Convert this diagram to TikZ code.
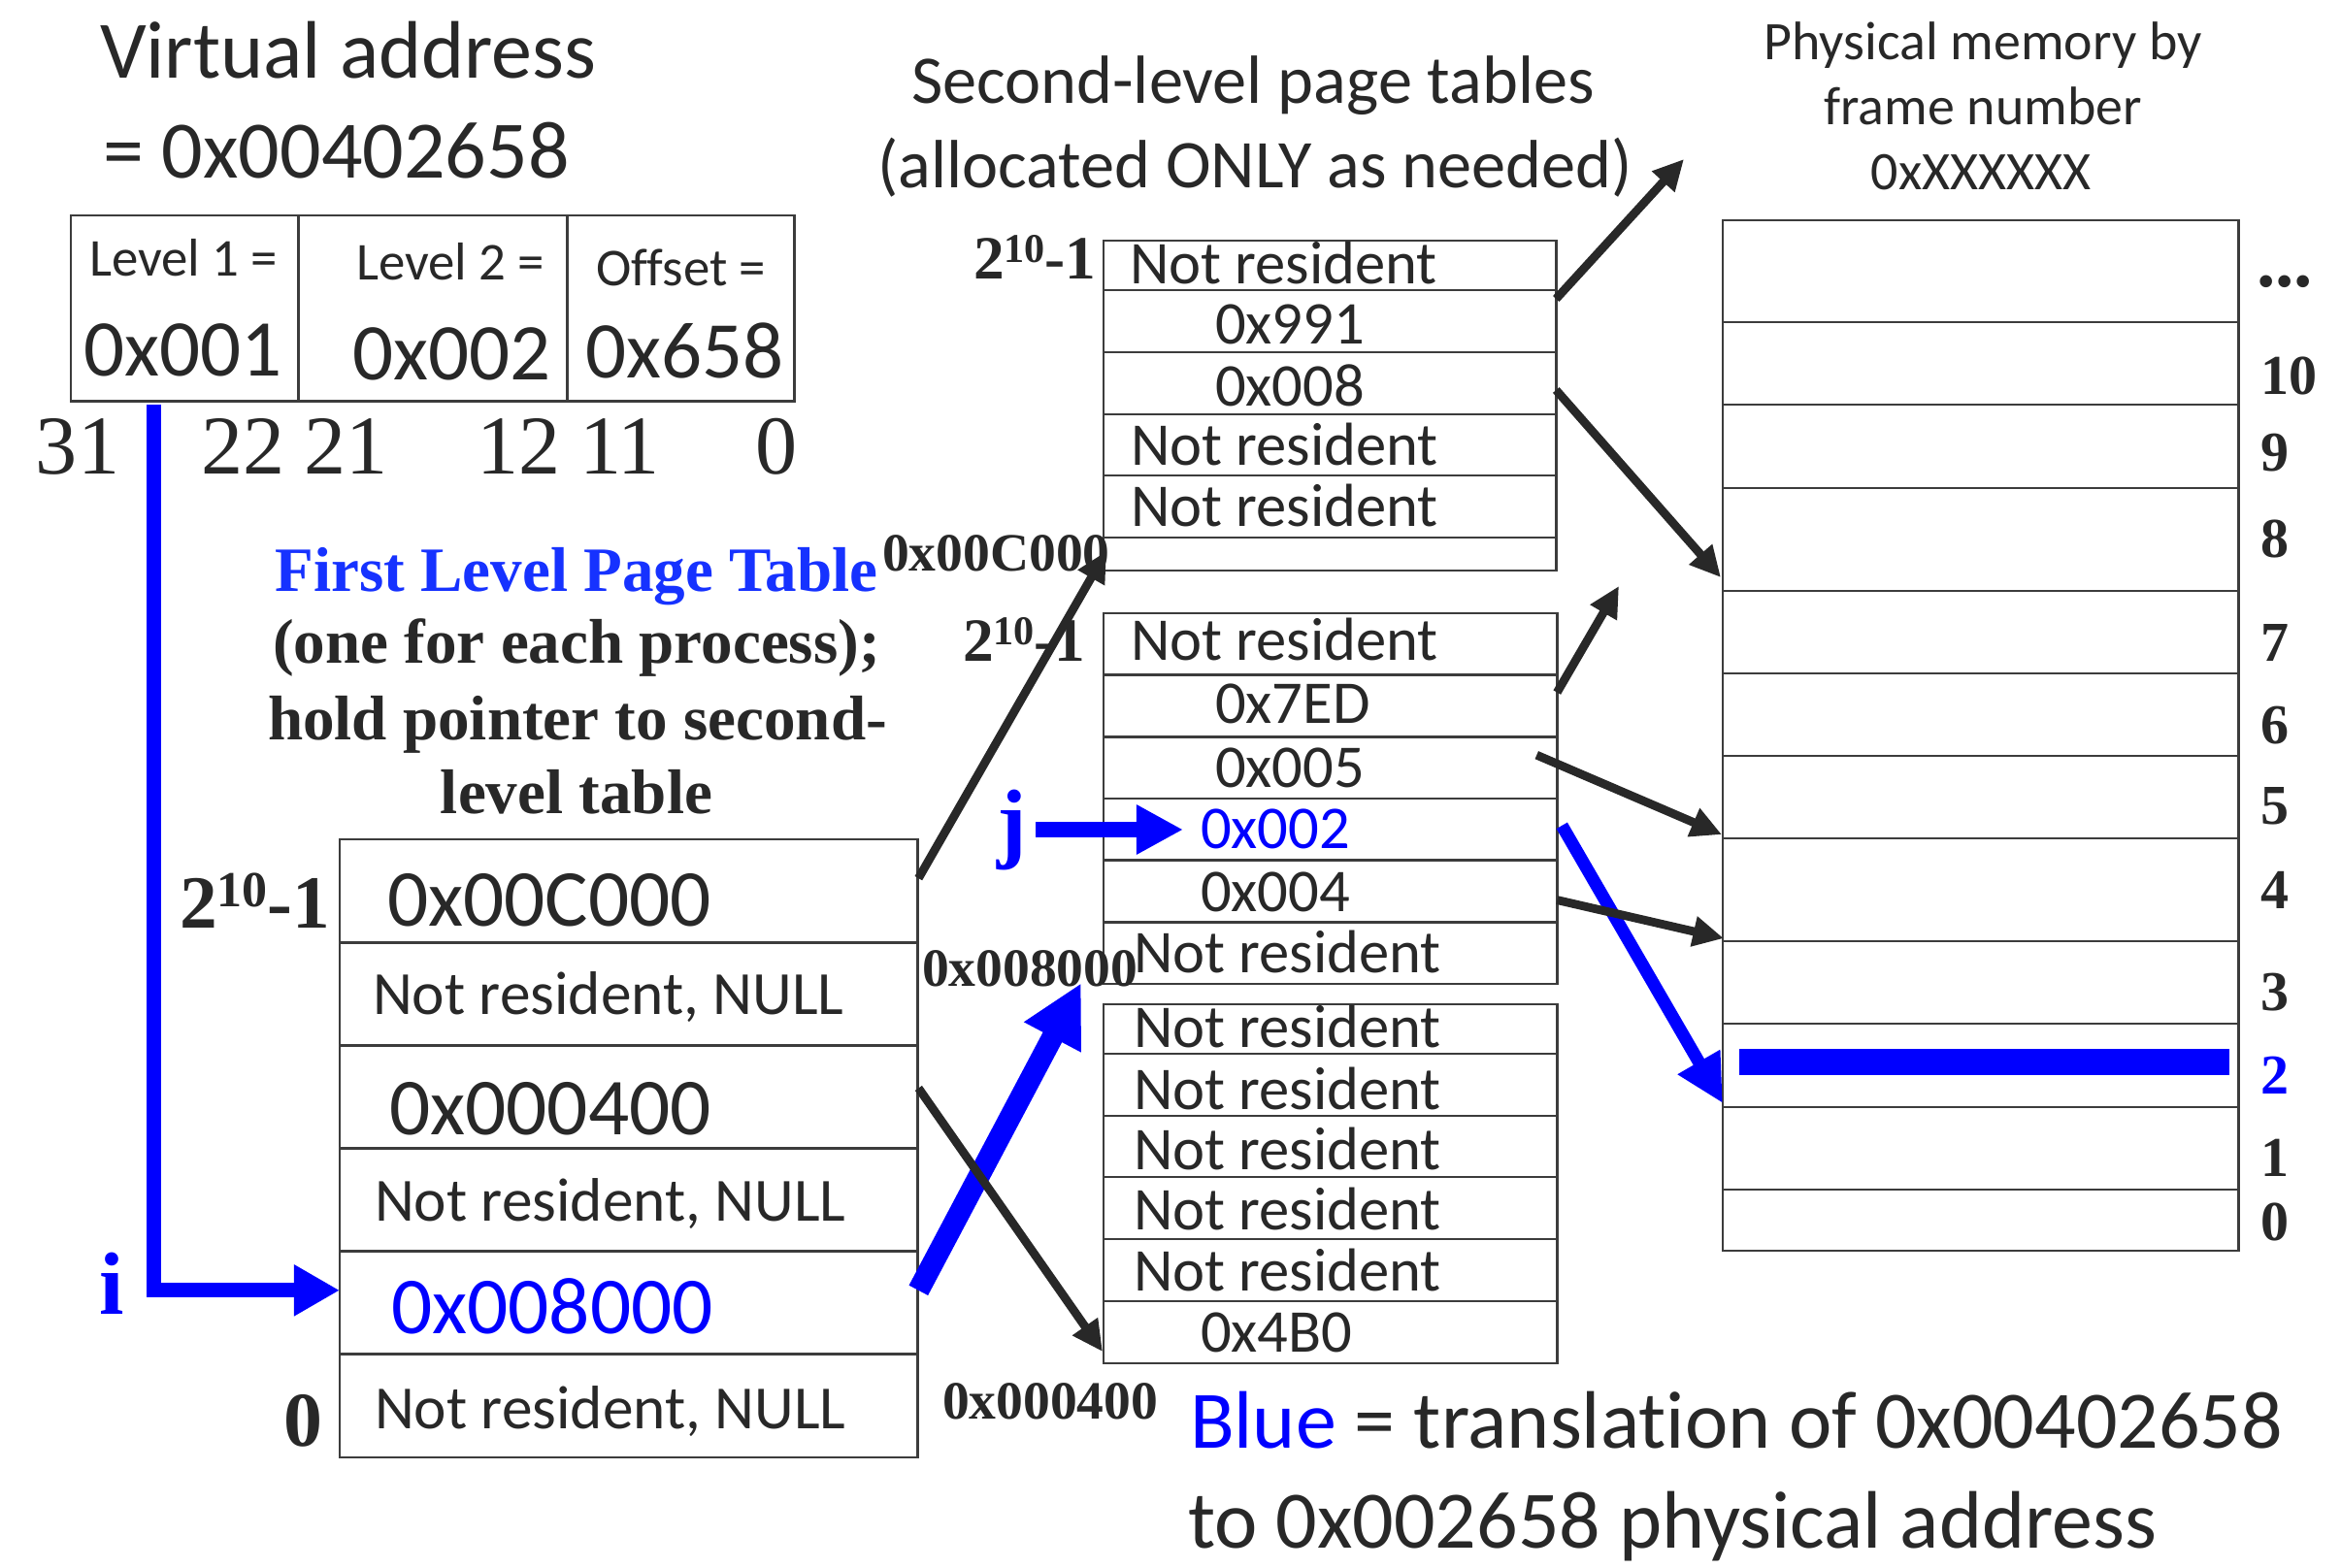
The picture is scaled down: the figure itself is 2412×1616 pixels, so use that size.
\documentclass[tikz,border=0pt]{standalone}
\usepackage{fontspec}
\setmainfont{Liberation Serif}
\newfontfamily\cbr{Carlito}[Ligatures={NoCommon}]
\usetikzlibrary{arrows.meta,calc}
\newcommand\fsz[1]{\fontsize{#1}{#1}\selectfont}
\newcommand\tenpow[2]{{\fsz{#1}2\raisebox{0.28em}{\fsz{#2}10}-1}}
\definecolor{ink}{RGB}{40,40,40}
\definecolor{lc}{RGB}{60,60,60}
\definecolor{bl}{RGB}{0,0,255}
\definecolor{tbl}{RGB}{22,50,255}
\tikzset{
  cell/.style={draw=lc, line width=0.8pt, anchor=north west, inner sep=0pt, outer sep=0pt, fill=none},
  tl/.style={anchor=base west, inner sep=0pt, outer sep=0pt, text=ink},
  tm/.style={anchor=base, inner sep=0pt, outer sep=0pt, text=ink},
  cal/.style={font=\cbr\fsz{#1}},
  ser/.style={font=\bfseries\fsz{#1}},
  blk/.style={draw=ink, line width=2.5pt, -{Triangle[length=9pt,width=8.5pt]}},
}
\begin{document}
\begin{tikzpicture}[x=0.01cm,y=-0.01cm]
\useasboundingbox (0,0) rectangle (2412,1616);
\fill[white] (0,0) rectangle (2412,1616);

% ---------- virtual address ----------
\node[tl, cal=23.9] (vaT1) at (103,81) {Virtual address};
\node[tl, cal=23.9] (vaT2) at (106,184) {= 0x00402658};
\node[cell, minimum width=2.34cm, minimum height=1.91cm] (va1) at (73,222) {};
\node[cell, minimum width=2.77cm, minimum height=1.91cm] (va2) at (307,222) {};
\node[cell, minimum width=2.34cm, minimum height=1.91cm] (va3) at (584,222) {};
\node[tl, cal=15.6] (l1t) at (92,285) {Level 1 =};
\node[tl, cal=23.6] (l1v) at (86,388) {0x001};
\node[tl, cal=15.6] (l2t) at (367,289) {Level 2 =};
\node[tl, cal=23.6] (l2v) at (363,392) {0x002};
\node[tl, cal=15.6] (oft) at (614,295) {Offset =};
\node[tl, cal=23.6] (ofv) at (603,390) {0x658};
\node[tl, font=\fsz{24.5}] (b31) at (37,489) {31};
\node[tl, font=\fsz{24.5}] (b22) at (207,489) {22};
\node[tl, font=\fsz{24.5}] (b21) at (313,489) {21};
\node[tl, font=\fsz{24.5}] (b12) at (491,489) {12};
\node[tl, font=\fsz{24.5}] (b11) at (597,489) {11};
\node[tl, font=\fsz{24.5}] (b0) at (778,489) {0};

% ---------- first level title ----------
\node[tm, ser=18.5, text=tbl] (ft1) at (594,610) {First Level Page Table};
\node[tm, ser=18.5] (ft2) at (594,684) {(one for each process);};
\node[tm, ser=18.5] (ft3) at (595,762) {hold pointer to second-};
\node[tm, ser=18.5] (ft4) at (594,838) {level table};

% ---------- first level table ----------
\node[cell, minimum width=5.95cm, minimum height=1.062cm] (L1r5) at (350,865) {};
\node[cell, minimum width=5.95cm, minimum height=1.062cm] (L1r4) at (350,971.2) {};
\node[cell, minimum width=5.95cm, minimum height=1.062cm] (L1r3) at (350,1077.3) {};
\node[cell, minimum width=5.95cm, minimum height=1.062cm] (L1r2) at (350,1183.5) {};
\node[cell, minimum width=5.95cm, minimum height=1.062cm] (L1r1) at (350,1289.7) {};
\node[cell, minimum width=5.95cm, minimum height=1.062cm] (L1r0) at (350,1395.8) {};
\node[tl, cal=23.7] (L1t5) at (399,954) {0x00C000};
\node[tl, cal=18] (L1t4) at (384,1045) {Not resident, NULL};
\node[tl, cal=23.7] (L1t3) at (401,1169) {0x000400};
\node[tl, cal=18] (L1t2) at (386,1258) {Not resident, NULL};
\node[tl, cal=23.7, text=bl] (L1t1) at (403,1374) {0x008000};
\node[tl, cal=18] (L1t0) at (386,1472) {Not resident, NULL};
\node[tl, font=\bfseries] (L1top) at (185,956) {\tenpow{22}{14.8}};
\node[tl, ser=22.7] (L1bot) at (292,1490) {0};
\node[tl, ser=26, text=bl] (ilab) at (102,1354) {i};

% ---------- second level titles ----------
\node[tm, cal=20] (st1) at (1291,107) {Second-level page tables};
\node[tm, cal=20] (st2) at (1293,194) {(allocated ONLY as needed)};

% ---------- top second-level table ----------
\node[cell, minimum width=4.66cm, minimum height=0.51cm] (T1r5) at (1137,248) {};
\node[cell, minimum width=4.66cm, minimum height=0.64cm] (T1r4) at (1137,299) {};
\node[cell, minimum width=4.66cm, minimum height=0.64cm] (T1r3) at (1137,363) {};
\node[cell, minimum width=4.66cm, minimum height=0.63cm] (T1r2) at (1137,427) {};
\node[cell, minimum width=4.66cm, minimum height=0.64cm] (T1r1) at (1137,490) {};
\node[cell, minimum width=4.66cm, minimum height=0.34cm] (T1r0) at (1137,554) {};
\node[tl, cal=17.8] (T1t5) at (1164,293) {Not resident};
\node[tl, cal=17.8] (T1t4) at (1252,355) {0x991};
\node[tl, cal=17.8] (T1t3) at (1252,419) {0x008};
\node[tl, cal=17.8] (T1t2) at (1165,480) {Not resident};
\node[tl, cal=17.8] (T1t1) at (1165,543) {Not resident};
\node[tl, font=\bfseries] (T1top) at (1003,288) {\tenpow{18}{12}};
\node[tl, ser=15.8] (T1lab) at (909,589) {0x00C000};

% ---------- middle second-level table ----------
\node[cell, minimum width=4.67cm, minimum height=0.637cm] (M1r5) at (1137,632) {};
\node[cell, minimum width=4.67cm, minimum height=0.637cm] (M1r4) at (1137,695.7) {};
\node[cell, minimum width=4.67cm, minimum height=0.637cm] (M1r3) at (1137,759.3) {};
\node[cell, minimum width=4.67cm, minimum height=0.637cm] (M1r2) at (1137,823) {};
\node[cell, minimum width=4.67cm, minimum height=0.637cm] (M1r1) at (1137,886.7) {};
\node[cell, minimum width=4.67cm, minimum height=0.637cm] (M1r0) at (1137,950.3) {};
\node[tl, cal=17.8] (M1t5) at (1165,681) {Not resident};
\node[tl, cal=17.8] (M1t4) at (1252,745) {0x7ED};
\node[tl, cal=17.8] (M1t3) at (1252,811) {0x005};
\node[tl, cal=17.8, text=bl] (M1t2) at (1237,874) {0x002};
\node[tl, cal=17.8] (M1t1) at (1237,939) {0x004};
\node[tl, cal=17.8] (M1t0) at (1168,1002) {Not resident};
\node[tl, font=\bfseries] (M1top) at (992,682) {\tenpow{18}{12}};
\node[tl, ser=26, text=bl] (jlab) at (1027,877) {j};
\node[tl, ser=15.8] (M1lab) at (950,1016) {0x008000};

% ---------- bottom second-level table ----------
\node[cell, minimum width=4.67cm, minimum height=0.51cm] (B1r5) at (1137,1035) {};
\node[cell, minimum width=4.67cm, minimum height=0.64cm] (B1r4) at (1137,1086) {};
\node[cell, minimum width=4.67cm, minimum height=0.63cm] (B1r3) at (1137,1150) {};
\node[cell, minimum width=4.67cm, minimum height=0.64cm] (B1r2) at (1137,1213) {};
\node[cell, minimum width=4.67cm, minimum height=0.64cm] (B1r1) at (1137,1277) {};
\node[cell, minimum width=4.67cm, minimum height=0.64cm] (B1r0) at (1137,1341) {};
\node[tl, cal=17.8] (B1t5) at (1168,1079) {Not resident};
\node[tl, cal=17.8] (B1t4) at (1168,1143) {Not resident};
\node[tl, cal=17.8] (B1t3) at (1168,1205) {Not resident};
\node[tl, cal=17.8] (B1t2) at (1168,1267) {Not resident};
\node[tl, cal=17.8] (B1t1) at (1168,1330) {Not resident};
\node[tl, cal=17.8] (B1t0) at (1237,1393) {0x4B0};
\node[tl, ser=15.8] (B1lab) at (971,1462) {0x000400};

% ---------- physical memory ----------
\node[tm, cal=15.9] (pm1) at (2043,62) {Physical memory by};
\node[tm, cal=15.9] (pm2) at (2043,129) {frame number};
\node[tm, cal=15.9] (pm3) at (2041,196) {0xXXXXXX};
\node[cell, minimum width=5.31cm, minimum height=1.05cm] (Mdots) at (1775,227) {};
\node[cell, minimum width=5.31cm, minimum height=0.85cm] (M10) at (1775,332) {};
\node[cell, minimum width=5.31cm, minimum height=0.86cm] (M9) at (1775,417) {};
\node[cell, minimum width=5.31cm, minimum height=1.06cm] (M8) at (1775,503) {};
\node[cell, minimum width=5.31cm, minimum height=0.85cm] (M7) at (1775,609) {};
\node[cell, minimum width=5.31cm, minimum height=0.85cm] (M6) at (1775,694) {};
\node[cell, minimum width=5.31cm, minimum height=0.85cm] (M5) at (1775,779) {};
\node[cell, minimum width=5.31cm, minimum height=1.06cm] (M4) at (1775,864) {};
\node[cell, minimum width=5.31cm, minimum height=0.85cm] (M3) at (1775,970) {};
\node[cell, minimum width=5.31cm, minimum height=0.86cm] (M2) at (1775,1055) {};
\node[cell, minimum width=5.31cm, minimum height=0.85cm] (M1) at (1775,1141) {};
\node[cell, minimum width=5.31cm, minimum height=0.63cm] (M0) at (1775,1226) {};
\node[fill=bl, anchor=north west, inner sep=0pt, minimum width=5.05cm, minimum height=0.27cm] (bar) at (1791,1080) {};
\node[tl, ser=22] (nd) at (2325,296) {...};
\node[tl, ser=16.5] (n10) at (2329,407) {10};
\node[tl, ser=16.5] (n9) at (2329,486) {9};
\node[tl, ser=16.5] (n8) at (2329,575) {8};
\node[tl, ser=16.5] (n7) at (2329,682) {7};
\node[tl, ser=16.5] (n6) at (2329,767) {6};
\node[tl, ser=16.5] (n5) at (2329,850) {5};
\node[tl, ser=16.5] (n4) at (2329,936) {4};
\node[tl, ser=16.5] (n3) at (2329,1041) {3};
\node[tl, ser=16.5, text=bl] (n2) at (2329,1127) {2};
\node[tl, ser=16.5] (n1) at (2329,1212) {1};
\node[tl, ser=16.5] (n0) at (2329,1278) {0};

% ---------- caption ----------
\node[tl, cal=23.9] (cap1) at (1226,1492) {\textcolor{bl}{Blue} = translation of 0x00402658};
\node[tl, cal=23.9] (cap2) at (1224,1595) {to 0x002658 physical address};

% ---------- connectors ----------
\coordinate (iStart) at (158.5,417);
\coordinate (free1) at (1735,164);
\coordinate (free2) at (1668,604);

\draw[bl, line width=4.3pt, -{Triangle[length=13.4pt,width=14.2pt]}]
  (iStart) |- ($(L1r1.west)+(0,-13)$);
\draw[bl, line width=4.5pt, shorten <=0.1cm, shorten >=0.18cm, -{Triangle[length=13.7pt,width=13.7pt]}]
  (jlab.east) -- (jlab.east -| M1t2.west);
\draw[bl, line width=6.3pt, -{Triangle[length=18pt,width=17.6pt]}]
  ($(L1r1.east)+(1,-13)$) -- ($(M1r0.south west)+(-23,-1)$);
\draw[bl, line width=3.7pt, -{Triangle[length=14pt,width=13.4pt]}]
  ($(M1r2.east)+(5,-4)$) -- ($(M2.south west)+(0,-4)$);

\draw[blk] ($(L1r5.east)+(1,-13)$) -- ($(T1r0.west)+(3,-3)$);
\draw[blk] ($(L1r3.east)+(1,-9)$) -- ($(B1r0.west)+(-1,20)$);
\draw[blk] ($(T1r4.east)+(0,-23)$) -- (free1);
\draw[blk] ($(T1r3.east)+(0,7)$) -- ($(M8.south west)+(-2,-14)$);
\draw[blk] ($(M1r4.east)+(0,-14)$) -- (free2);
\draw[blk] ($(M1r3.east)+(-21,-13)$) -- ($(M5.south west)+(-1,-4)$);
\draw[blk] ($(M1r1.east)+(0,9)$) -- ($(M4.south west)+(1,-3)$);
\end{tikzpicture}
\end{document}
